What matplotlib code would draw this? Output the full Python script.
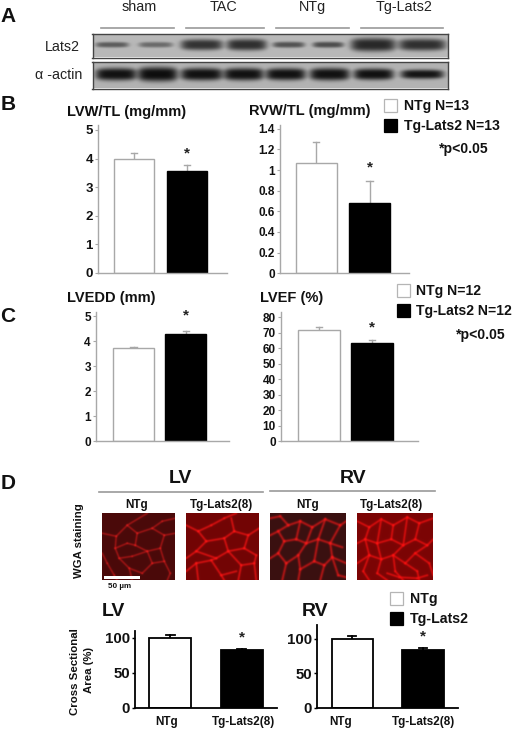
import numpy as np
import matplotlib
matplotlib.use('Agg')
import matplotlib.pyplot as plt
from matplotlib.colors import LinearSegmentedColormap
from matplotlib.patches import Rectangle

plt.rcParams['font.family'] = ['Liberation Sans', 'DejaVu Sans']

W, H = 518, 729

# bar data: means, tops of the error bars
lvw = [3.98, 3.57]
lvw_top = [4.2, 3.78]
rvw = [1.07, 0.68]
rvw_top = [1.27, 0.89]
lvedd = [3.72, 4.31]
lvedd_top = [3.78, 4.41]
lvef = [72, 63.5]
lvef_top = [74, 65.5]
csa_lv = [100, 82]
csa_lv_top = [104, 84]
csa_rv = [100, 83]
csa_rv_top = [103.5, 87]

lvw_ticks = [0, 1, 2, 3, 4, 5]
rvw_ticks = [0, 0.2, 0.4, 0.6, 0.8, 1, 1.2, 1.4]
lvedd_ticks = [0, 1, 2, 3, 4, 5]
lvef_ticks = [0, 10, 20, 30, 40, 50, 60, 70, 80]
csa_ticks = [0, 50, 100]

# western blot bands: left, right, half height, darkness (pixels of the figure)
lats2_bands = [(95, 128, 2.8, .50), (138, 172, 2.8, .42), (180, 222, 5.5, .72), (226, 266, 5.8, .74),
               (272, 304, 3.0, .55), (312, 343, 3.0, .58), (350, 395, 6.8, .78), (398, 445, 6.0, .74)]
actin_bands = [(95, 136, 6.2, .90), (137, 177, 7.2, .92), (180, 222, 6.2, .90), (223, 263, 6.2, .90),
               (265, 305, 6.0, .90), (309, 349, 6.2, .90), (353, 393, 5.7, .90), (400, 443, 4.6, .88)]

# cell borders of the stained sections, read by eye (pixels inside each picture)
walls_lv_ntg = [
    [(0, 20), (14, 23), (25, 12), (45, 0)],
    [(14, 23), (13, 35), (17, 45), (27, 55), (30, 67)],
    [(25, 12), (35, 20), (50, 15), (60, 8), (73, 5)],
    [(35, 20), (33, 32), (45, 38), (58, 35), (62, 22), (50, 15)],
    [(13, 35), (25, 30), (33, 32)],
    [(17, 45), (30, 43), (45, 38), (50, 50), (62, 48), (58, 35)],
    [(62, 48), (68, 60), (65, 67)],
    [(50, 50), (40, 60), (27, 55)],
    [(0, 40), (5, 50), (12, 62), (15, 67)],
    [(73, 20), (62, 22)],
]
walls_lv_tg = [
    [(0, 12), (12, 18), (25, 12), (38, 5), (50, 0)],
    [(12, 18), (20, 28), (38, 25), (48, 18), (62, 22), (73, 15)],
    [(48, 18), (45, 5)],
    [(20, 28), (10, 38), (0, 45)],
    [(38, 25), (42, 38), (30, 45), (10, 38)],
    [(42, 38), (58, 35), (62, 22)],
    [(58, 35), (70, 42), (68, 50), (70, 67)],
    [(0, 58), (10, 50), (25, 47), (30, 45)],
    [(25, 47), (35, 62), (38, 67)],
    [(10, 50), (12, 67)],
    [(42, 38), (55, 52), (52, 67)],
    [(55, 52), (68, 50)],
    [(35, 62), (50, 58)],
]
walls_rv_ntg = [
    [(0, 5), (10, 3), (18, 12), (30, 8), (42, 14), (55, 6), (70, 12), (76, 8)],
    [(0, 22), (8, 18), (18, 12)],
    [(8, 18), (14, 28), (8, 40), (0, 45)],
    [(14, 28), (26, 26), (30, 8)],
    [(26, 26), (36, 30), (42, 14)],
    [(36, 30), (48, 26), (55, 6)],
    [(48, 26), (60, 30), (70, 12)],
    [(60, 30), (72, 34)],
    [(8, 40), (16, 50), (12, 67)],
    [(16, 50), (28, 42), (36, 30)],
    [(28, 42), (30, 56), (28, 67)],
    [(30, 56), (44, 48), (48, 26)],
    [(44, 48), (54, 52), (62, 44), (60, 30)],
    [(54, 52), (50, 67)],
    [(62, 44), (76, 50)],
    [(62, 44), (68, 62), (76, 64)],
]
walls_rv_tg = [
    [(0, 8), (12, 14), (24, 6), (36, 12), (50, 4), (62, 10), (76, 5)],
    [(12, 14), (8, 26), (0, 30)],
    [(8, 26), (20, 30), (24, 6)],
    [(20, 30), (34, 26), (36, 12)],
    [(34, 26), (46, 32), (50, 4)],
    [(46, 32), (58, 26), (62, 10)],
    [(58, 26), (70, 32), (76, 26)],
    [(8, 26), (12, 42), (0, 50)],
    [(12, 42), (24, 46), (20, 30)],
    [(24, 46), (36, 42), (46, 32)],
    [(36, 42), (48, 50), (58, 40), (70, 32)],
    [(12, 42), (6, 58), (12, 67)],
    [(24, 46), (20, 60), (30, 67)],
    [(36, 42), (38, 58), (46, 67)],
    [(48, 50), (60, 58), (62, 67)],
    [(58, 40), (72, 50), (76, 62)],
    [(30, 60), (42, 64), (60, 65), (70, 62)],
]


def px_axes(x0, y0, x1, y1):
    return fig.add_axes([x0 / W, 1 - y1 / H, (x1 - x0) / W, (y1 - y0) / H])


def blot(x0, y0, x1, y1, bands, bg):
    ax = px_axes(x0, y0, x1, y1)
    xs = np.arange(x0, x1, 0.5)
    ys = np.arange(y0, y1, 0.5)
    X, Y = np.meshgrid(xs, ys)
    img = np.full(X.shape, bg)
    cy = (y0 + y1) / 2 - 0.5
    for left, right, hh, dark in bands:
        c = (left + right) / 2
        hw = (right - left) / 2
        a = np.exp(-np.abs((X - c) / hw) ** 6)
        b = np.exp(-np.abs((Y - cy) / (hh * (0.7 + 0.3 * np.sqrt(np.clip(1 - ((X - c) / (1.1 * hw)) ** 2, 0, 1))))) ** 3)
        img = img * (1 - dark * a * b)
    ax.imshow(img, cmap='gray', vmin=0, vmax=1, extent=(x0, x1, y1, y0), aspect='auto', interpolation='bilinear')
    ax.set_xticks([])
    ax.set_yticks([])
    for s in ax.spines.values():
        s.set_color('#444444')
        s.set_linewidth(1.0)


def section(x0, y0, x1, y1, walls, bg, col, sigma, gain):
    ax = px_axes(x0, y0, x1, y1)
    w, h = x1 - x0, y1 - y0
    X, Y = np.meshgrid(np.arange(0, w, 0.5), np.arange(0, h, 0.5))
    dark = np.ones(X.shape)
    for wall in walls:
        for (ax0, ay0), (ax1, ay1) in zip(wall[:-1], wall[1:]):
            dx, dy = ax1 - ax0, ay1 - ay0
            u = np.clip(((X - ax0) * dx + (Y - ay0) * dy) / (dx * dx + dy * dy), 0, 1)
            d2 = (X - ax0 - u * dx) ** 2 + (Y - ay0 - u * dy) ** 2
            dark = dark * (1 - gain * np.exp(-d2 / (2 * sigma ** 2)))
    cmap = LinearSegmentedColormap.from_list('wga', [bg, col])
    ax.imshow(1 - dark, cmap=cmap, vmin=0, vmax=1, extent=(0, w, h, 0), aspect='auto', interpolation='bilinear')
    ax.set_xticks([])
    ax.set_yticks([])
    for s in ax.spines.values():
        s.set_visible(False)
    return ax


def bars(box, vals, tops, ticks, ylim, c0, c1, bw, col, fs, star_off):
    # box in figure pixels: axis x, top y, right x, bottom y. c0, c1 = bar centres in pixels
    x0, y0, x1, y1 = box
    ax = px_axes(x0, y0, x1, y1)
    ax.patch.set_alpha(0)
    step = c1 - c0
    ax.set_xlim((x0 - c0) / step, (x1 - c0) / step)
    ax.set_ylim(*ylim)
    w = bw / step
    lw = 1.0 if col != 'black' else 1.3
    # white one keeps its outline, black one is filled
    ax.bar([0, 1], vals, width=w, color=['white', 'black'], edgecolor=[col, 'black'], linewidth=lw, zorder=2)
    for i in [0, 1]:
        ax.plot([i, i], [vals[i], tops[i]], color=col, lw=lw, zorder=1)
        ax.plot([i - 0.06, i + 0.06], [tops[i], tops[i]], color=col, lw=lw, zorder=1)
    ax.annotate('*', (1, tops[1]), xytext=(0, star_off), textcoords='offset pixels', ha='center', va='center',
                fontsize=11, fontweight='bold', color='#222222')
    ax.set_xticks([])
    ax.set_yticks(ticks)
    ax.set_yticklabels([str(t) for t in ticks], fontsize=fs, fontweight='bold', color='#111111')
    ax.tick_params(axis='y', length=2.2, width=lw * 0.8, color=col, pad=1.5)
    for s in ['top', 'right']:
        ax.spines[s].set_visible(False)
    for s in ['left', 'bottom']:
        ax.spines[s].set_color(col)
        ax.spines[s].set_linewidth(lw)
    return ax


fig = plt.figure(figsize=(W / 100, H / 100), dpi=100, facecolor='white')

# A: blots
blot(92.5, 33.5, 447.5, 57.5, lats2_bands, 0.72)
blot(92.5, 62, 447.5, 88.5, actin_bands, 0.70)

# B, C: bars with grey axes
grey = '#a8a8a8'
bars((98, 125, 227, 273), lvw, lvw_top, lvw_ticks, (0, 5 * 148 / 143), 133.75, 186.75, 40.5, grey, 9.5, 11)
bars((280, 125, 409, 273.3), rvw, rvw_top, rvw_ticks, (0, 1.4 * 148.3 / 144.6), 316.25, 369.5, 41, grey, 8.5, 14)
bars((96, 312, 229, 441.3), lvedd, lvedd_top, lvedd_ticks, (0, 5 * 129.3 / 125), 133.5, 185.75, 41, grey, 8.5, 16)
bars((281, 312, 418, 441.3), lvef, lvef_top, lvef_ticks, (0, 80 * 129.3 / 124), 319, 372.25, 42, grey, 8.5, 12)

# D: sections
section(102, 513, 175, 580, walls_lv_ntg, '#4a0a0a', '#e81c1c', 0.7, 0.5)
section(186, 513, 259, 580, walls_lv_tg, '#720505', '#ff1414', 0.8, 0.65)
section(270, 513, 346, 580, walls_rv_ntg, '#3a1010', '#f81818', 0.9, 0.6)
section(357, 513, 433, 580, walls_rv_tg, '#7c0505', '#ff1010', 0.8, 0.65)

# D: bars with black axes
bars((135, 630.7, 277, 707.7), csa_lv, csa_lv_top, csa_ticks, (0, 110), 170.25, 241.75, 42, 'black', 10.8, 11)
bars((317, 625, 458, 707.7), csa_rv, csa_rv_top, csa_ticks, (0, 100 * 82.7 / 69), 352.25, 423, 41.5, 'black', 10.8, 11)

# everything placed by hand goes on a pixel overlay
ov = fig.add_axes([0, 0, 1, 1], zorder=10)
ov.set_xlim(0, W)
ov.set_ylim(H, 0)
ov.axis('off')


def t(x, y, s, size, weight='bold', ha='center', color='#111111', rot=0):
    ov.text(x, y, s, fontsize=size, fontweight=weight, ha=ha, va='center', color=color, rotation=rot)


for s, x, y in [('A', 8, 16), ('B', 8, 104), ('C', 8, 316), ('D', 8, 483)]:
    t(x, y, s, 15)

for s, x in [('sham', 139), ('TAC', 224), ('NTg', 312), ('Tg-Lats2', 404)]:
    t(x, 6.5, s, 10.4, weight='normal', color='#222222')
for a, b in [(101, 174), (186, 264), (276, 349), (361, 443)]:
    ov.plot([a, b], [27.5, 27.5], color='#999999', lw=1.2)
t(80, 47, 'Lats2', 10.3, weight='normal', ha='right', color='#222222')
t(82, 75, 'α -actin', 10.3, weight='normal', ha='right', color='#222222')

t(127, 112, 'LVW/TL (mg/mm)', 10.5)
t(310, 111, 'RVW/TL (mg/mm)', 10.5)
t(111, 298, 'LVEDD (mm)', 10.5)
t(292, 298, 'LVEF (%)', 10.5)


def legend_row(x, y, s, fc, size):
    ov.add_patch(Rectangle((x, y), 13, 13, fc=fc, ec='#b5b5b5' if fc == 'white' else 'black', lw=0.9))
    t(x + 20, y + 6.5, s, size, ha='left')


legend_row(384, 99, 'NTg N=13', 'white', 10.1)
legend_row(384, 119, 'Tg-Lats2 N=13', 'black', 10.1)
t(439, 149, '*p<0.05', 10.1, ha='left')
legend_row(396.5, 284, 'NTg N=12', 'white', 10.1)
legend_row(396.5, 304, 'Tg-Lats2 N=12', 'black', 10.1)
t(456, 335, '*p<0.05', 10.1, ha='left')

t(180, 478, 'LV', 14)
t(353, 478, 'RV', 14)
ov.plot([99, 263], [492, 492], color='#999999', lw=1.2)
ov.plot([270, 435], [490.5, 490.5], color='#999999', lw=1.2)
for s, x in [('NTg', 137), ('Tg-Lats2(8)', 221), ('NTg', 308), ('Tg-Lats2(8)', 392)]:
    t(x, 505, s, 8.4)
t(79, 541, 'WGA staining', 8.2, rot=90)
ov.add_patch(Rectangle((104, 576), 36, 2.5, fc='white', ec='none'))
t(120, 586, '50 µm', 5.8)

t(113, 611, 'LV', 14)
t(315, 611, 'RV', 14)
legend_row(390, 592, 'NTg', 'white', 10.2)
legend_row(390, 612, 'Tg-Lats2', 'black', 10.2)
t(75, 672, 'Cross Sectional', 8.2, rot=90)
t(89, 670, 'Area (%)', 8.2, rot=90)
for s, x in [('NTg', 167), ('Tg-Lats2(8)', 244), ('NTg', 341), ('Tg-Lats2(8)', 423)]:
    t(x, 721.5, s, 8.4)

fig.savefig('out.png', dpi=100, facecolor='white')
